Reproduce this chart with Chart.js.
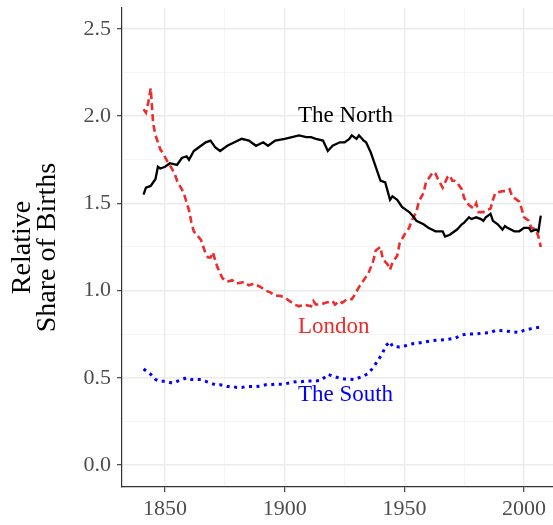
<!DOCTYPE html>
<html>
<head>
<meta charset="utf-8">
<script src="https://cdn.jsdelivr.net/npm/chart.js@4/dist/chart.umd.min.js"></script>
<style>
html,body{margin:0;padding:0;background:#fff;}
#c{display:block;}
</style>
</head>
<body>
<canvas id="c" width="553" height="525"></canvas>
<script>
// ---- data ----
const northYears = [1841,1842,1844,1846,1847,1848,1850,1852,1855,1857,1859,1860,1862,1864,1867,1869,1871,1873,1876,1879,1882,1885,1888,1891,1893,1896,1900,1906,1909,1911,1913,1916,1918,1920,1923,1925,1927,1928,1930,1931,1933,1934,1936,1938,1939,1940,1942,1944,1945,1947,1949,1951,1952,1954,1955,1958,1960,1963,1966,1967,1969,1971,1972,1974,1975,1977,1978,1980,1982,1983,1984,1986,1987,1989,1991,1992,1993,1996,1998,2000,2002,2003,2005,2006,2007];
const northValues = [1.55,1.59,1.60,1.64,1.71,1.70,1.71,1.73,1.72,1.76,1.77,1.75,1.80,1.82,1.85,1.86,1.82,1.80,1.83,1.85,1.87,1.86,1.83,1.85,1.83,1.86,1.87,1.89,1.88,1.88,1.87,1.86,1.80,1.83,1.85,1.85,1.87,1.89,1.87,1.89,1.86,1.85,1.79,1.71,1.67,1.63,1.62,1.52,1.54,1.52,1.48,1.46,1.45,1.42,1.40,1.38,1.36,1.34,1.34,1.31,1.32,1.34,1.35,1.38,1.39,1.42,1.41,1.42,1.41,1.40,1.42,1.44,1.40,1.38,1.35,1.37,1.36,1.34,1.34,1.36,1.36,1.34,1.35,1.34,1.43];

const londonYears = [1841,1842,1843,1844,1845,1846,1848,1849,1851,1852,1854,1855,1857,1858,1860,1861,1862,1865,1867,1868,1869,1870,1871,1872,1874,1876,1878,1880,1883,1885,1887,1890,1892,1894,1896,1898,1900,1902,1904,1906,1908,1911,1912,1913,1915,1917,1920,1921,1923,1924,1926,1928,1929,1931,1933,1935,1937,1938,1940,1941,1943,1944,1945,1947,1948,1950,1952,1953,1955,1956,1958,1959,1961,1962,1963,1964,1966,1967,1968,1969,1970,1971,1972,1974,1975,1977,1978,1979,1980,1981,1983,1984,1986,1987,1988,1991,1993,1994,1995,1998,1999,2000,2002,2003,2005,2006,2007];
const londonValues = [2.04,2.02,2.08,2.16,1.96,1.89,1.81,1.79,1.74,1.72,1.67,1.63,1.58,1.55,1.46,1.39,1.34,1.29,1.21,1.19,1.19,1.22,1.17,1.13,1.07,1.05,1.06,1.04,1.05,1.03,1.04,1.02,1.00,0.99,0.97,0.97,0.96,0.94,0.92,0.91,0.92,0.91,0.94,0.92,0.92,0.93,0.94,0.92,0.94,0.93,0.95,0.95,0.97,1.02,1.06,1.10,1.17,1.23,1.25,1.18,1.15,1.12,1.16,1.20,1.27,1.32,1.36,1.40,1.45,1.51,1.56,1.62,1.66,1.68,1.67,1.64,1.59,1.62,1.65,1.66,1.63,1.63,1.62,1.58,1.53,1.49,1.48,1.47,1.50,1.45,1.45,1.46,1.47,1.52,1.56,1.57,1.57,1.58,1.54,1.51,1.47,1.42,1.40,1.36,1.35,1.31,1.25];

const southYears = [1841,1842,1844,1846,1848,1850,1853,1855,1857,1859,1861,1863,1865,1867,1869,1871,1873,1876,1878,1880,1882,1884,1886,1888,1890,1892,1894,1896,1899,1901,1903,1905,1907,1909,1911,1913,1915,1917,1918,1921,1923,1925,1929,1932,1935,1937,1939,1941,1942,1944,1945,1948,1950,1953,1956,1959,1962,1965,1968,1971,1974,1976,1979,1982,1986,1988,1991,1995,1998,2000,2003,2006,2007];
const southValues = [0.55,0.54,0.52,0.49,0.48,0.48,0.47,0.48,0.49,0.50,0.49,0.49,0.49,0.48,0.47,0.46,0.46,0.45,0.45,0.445,0.445,0.45,0.45,0.45,0.453,0.46,0.46,0.463,0.463,0.468,0.474,0.478,0.478,0.482,0.482,0.482,0.485,0.506,0.52,0.506,0.497,0.493,0.49,0.505,0.525,0.56,0.60,0.645,0.68,0.707,0.68,0.676,0.682,0.694,0.70,0.707,0.713,0.717,0.72,0.726,0.745,0.751,0.751,0.755,0.759,0.772,0.77,0.764,0.76,0.772,0.782,0.789,0.79];

const seriesNames = ['The North','London','The South'];
const xTicks = [1850,1875,1900,1925,1950,1975,2000];
const yTicks = [0,0.25,0.5,0.75,1,1.25,1.5,1.75,2,2.25,2.5];
const yTitle = ['Relative','Share of Births'];

// ---- styling ----
const SERIF = '"Liberation Serif", "Times New Roman", serif';
const colors = ['#000000','#EE2C2C','#0000FF'];

function pts(xs, ys){ return xs.map((x,i)=>({x:x, y:ys[i]})); }

const isMajorX = v => Math.abs(v % 50) < 1e-6;
const isMajorY = v => Math.abs((v*2) - Math.round(v*2)) < 1e-6;

const labelPlugin = {
  id: 'seriesLabels',
  afterDatasetsDraw(chart){
    const {ctx, scales:{x, y}} = chart;
    const spots = [
      {text: seriesNames[0], xv: 1905.5, yv: 2.0, color: colors[0]},
      {text: seriesNames[1], xv: 1905.5, yv: 0.79, color: colors[1]},
      {text: seriesNames[2], xv: 1905.5, yv: 0.40, color: colors[2]}
    ];
    ctx.save();
    ctx.font = '23px ' + SERIF;
    ctx.textAlign = 'left';
    ctx.textBaseline = 'middle';
    spots.forEach(s => {
      ctx.fillStyle = s.color;
      ctx.fillText(s.text, x.getPixelForValue(s.xv), y.getPixelForValue(s.yv));
    });
    ctx.restore();
  }
};

new Chart(document.getElementById('c'), {
  type: 'line',
  data: {
    datasets: [
      {label: seriesNames[0], data: pts(northYears, northValues), borderColor: colors[0], borderWidth: 2.3, pointRadius: 0, tension: 0, fill: false},
      {label: seriesNames[1], data: pts(londonYears, londonValues), borderColor: colors[1], borderWidth: 2.6, borderDash: [7,4], pointRadius: 0, tension: 0, fill: false},
      {label: seriesNames[2], data: pts(southYears, southValues), borderColor: colors[2], borderWidth: 3, borderDash: [3,4.5], pointRadius: 0, tension: 0, fill: false}
    ]
  },
  options: {
    responsive: false,
    animation: false,
    layout: {padding: {top: 8, right: 0, left: 0, bottom: 0}},
    plugins: {legend: {display: false}, tooltip: {enabled: false}},
    scales: {
      x: {
        type: 'linear',
        min: 1832,
        max: 2012.1,
        afterBuildTicks: s => { s.ticks = xTicks.map(v => ({value: v})); },
        afterFit: s => { s.height = 38; s.paddingLeft = 0; s.paddingRight = 0; },
        ticks: {
          autoSkip: false, maxRotation: 0, padding: 4,
          color: '#4D4D4D',
          font: {family: SERIF, size: 22},
          callback: v => isMajorX(v) ? String(v) : ''
        },
        grid: {
          color: c => (c.tick && isMajorX(c.tick.value)) ? '#EBEBEB' : '#F2F2F2',
          lineWidth: c => (c.tick && isMajorX(c.tick.value)) ? 1.4 : 0.8,
          tickColor: c => (c.tick && isMajorX(c.tick.value)) ? '#333333' : 'rgba(0,0,0,0)',
          tickLength: 5,
          tickWidth: 1.1
        },
        border: {display: true, color: '#333333', width: 1.2}
      },
      y: {
        type: 'linear',
        min: -0.126,
        max: 2.62,
        afterBuildTicks: s => { s.ticks = yTicks.map(v => ({value: v})); },
        afterFit: s => { s.width = 122; s.paddingTop = 0; s.paddingBottom = 0; },
        ticks: {
          autoSkip: false, padding: 6,
          color: '#4D4D4D',
          font: {family: SERIF, size: 22},
          callback: v => isMajorY(v) ? v.toFixed(1) : ''
        },
        grid: {
          color: c => (c.tick && isMajorY(c.tick.value)) ? '#EBEBEB' : '#F2F2F2',
          lineWidth: c => (c.tick && isMajorY(c.tick.value)) ? 1.4 : 0.8,
          tickColor: c => (c.tick && isMajorY(c.tick.value)) ? '#333333' : 'rgba(0,0,0,0)',
          tickLength: 5,
          tickWidth: 1.1
        },
        border: {display: true, color: '#333333', width: 1.2},
        title: {
          display: true,
          text: yTitle,
          color: '#000000',
          font: {family: SERIF, size: 28, lineHeight: 0.9},
          padding: {top: 10, bottom: 0}
        }
      }
    }
  },
  plugins: [labelPlugin]
});
</script>
</body>
</html>
